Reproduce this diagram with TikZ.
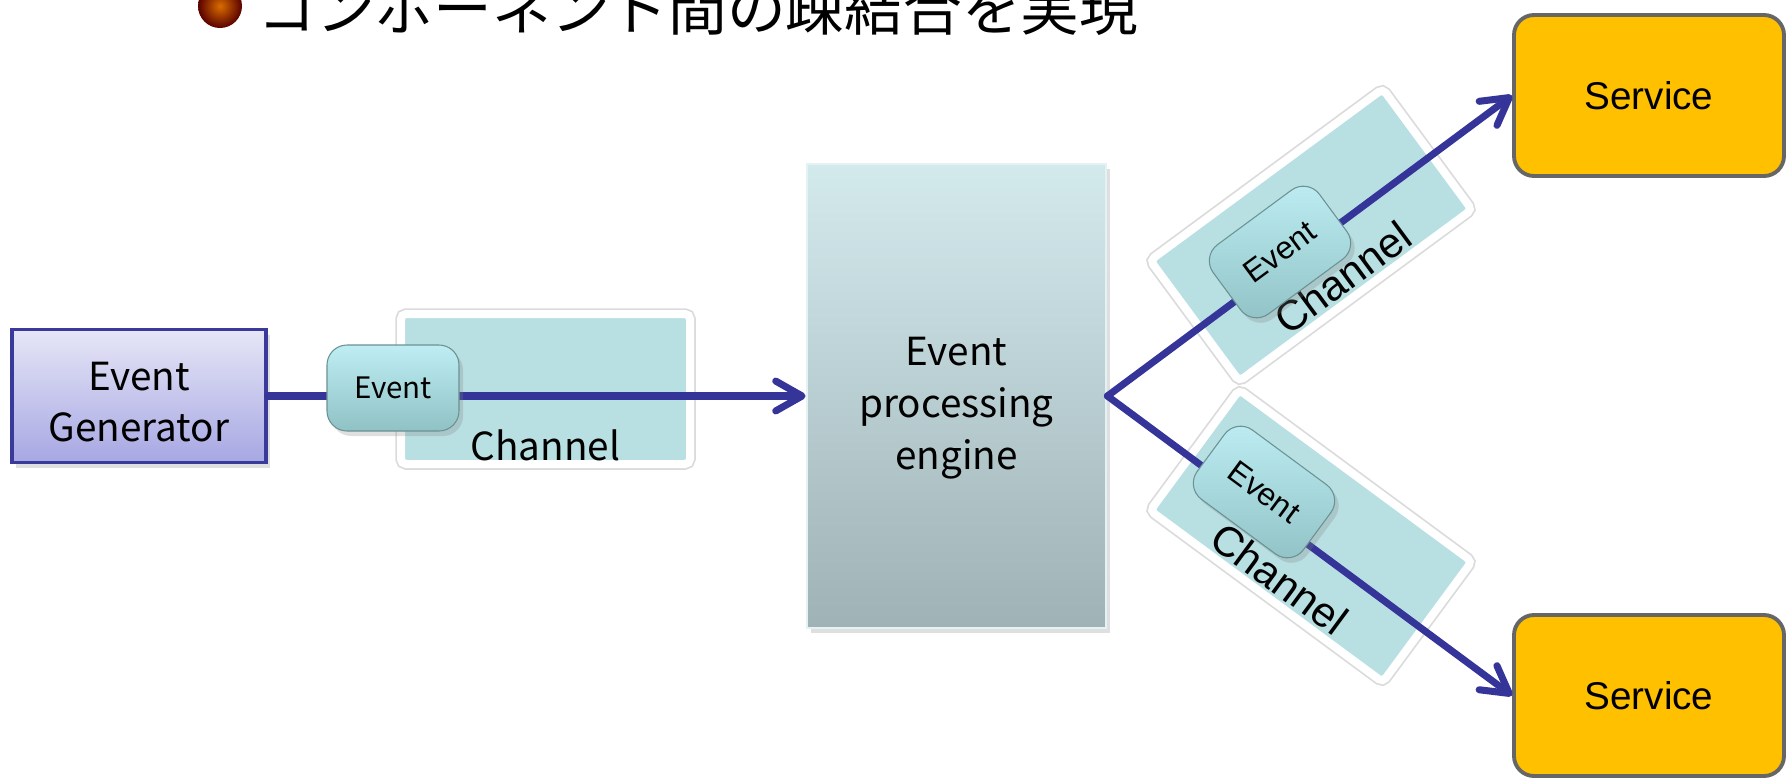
\documentclass[tikz,border=0pt]{standalone}
\usepackage{fontspec}
\setmainfont{Liberation Sans}
\newfontfamily\jpfont{Noto Sans CJK JP}
\usetikzlibrary{arrows.meta,positioning,calc,shadows}

\definecolor{flowblue}{HTML}{343499}
\definecolor{chanfill}{HTML}{B8DFE2}
\definecolor{evtTop}{HTML}{BEEEF3}
\definecolor{evtBot}{HTML}{8FC1C5}
\definecolor{engTop}{HTML}{D3EAED}
\definecolor{engBot}{HTML}{9FB2B6}
\definecolor{genTop}{HTML}{E6E6F7}
\definecolor{genBot}{HTML}{A7A7E3}
\definecolor{genLine}{HTML}{3A3A9B}
\definecolor{svcFill}{HTML}{FFC000}
\definecolor{svcLine}{HTML}{666666}

\begin{document}
\begin{tikzpicture}[
  soft/.style={drop shadow={opacity=0.25, shadow xshift=0.4mm, shadow yshift=-0.5mm}},
  gen/.style={draw=genLine, line width=0.9pt, top color=genTop, bottom color=genBot,
    minimum width=25.4mm, minimum height=13.3mm, soft},
  engine/.style={draw=engTop!60!white, line width=0.8pt, top color=engTop, bottom color=engBot,
    minimum width=29.9mm, minimum height=46.4mm, soft},
  blocktxt/.style={align=center, inner sep=0pt},
  svc/.style={draw=svcLine, line width=1.1pt, fill=svcFill, rounded corners=2mm,
    minimum width=27mm, minimum height=16.1mm, font=\fontsize{11}{13}\selectfont},
  chan/.style={draw=white, line width=0.8mm, fill=chanfill, rounded corners=0.5mm,
    minimum width=28.9mm, minimum height=15mm, inner sep=0pt,
    preaction={draw=black!14, line width=1.15mm}},
  chlbl/.style={anchor=base, inner sep=0pt, font=\fontsize{12}{14}\selectfont},
  evt/.style={draw=evtBot!75!black, line width=0.3pt, top color=evtTop, bottom color=evtBot,
    rounded corners=2mm, minimum width=13.2mm, minimum height=8.6mm, inner sep=0pt,
    font=\fontsize{9}{11}\selectfont, soft},
  flow/.style={draw=flowblue, line width=2pt, line cap=round,
    -{Straight Barb[length=7.5pt, width=8.5pt, round]}}
]
\useasboundingbox (0,0) rectangle (17.89,7.78);

% heading, cut off at the top
\node[circle, inner sep=0pt, minimum size=4.4mm, inner color=orange!85!black,
  outer color=red!35!black] (dot) at (2.20,7.72) {};
\node[anchor=base west, inner sep=0pt, font=\jpfont\fontsize{16.7}{20}\selectfont]
  (head) at (2.57,7.48) {コンポーネント間の疎結合を実現};

% main blocks
\node[gen] (gen) at (1.39,3.82) {};
\node[blocktxt, font=\jpfont\fontsize{11}{14.6}\selectfont] (gentxt)
  at ([yshift=-0.6mm]gen.center) {Event\\Generator};
\node[engine] (eng) at (9.565,3.82) {};
\node[blocktxt, font=\jpfont\fontsize{11}{14.8}\selectfont] (engtxt)
  at ([yshift=-1.2mm]eng.center) {Event\\processing\\engine};
\node[svc] (svcA) at (16.49,6.825) {Service};
\node[svc] (svcB) at (16.49,0.825) {Service};

% channels under the flow lines
\node[chan] (chH) at (5.455,3.89) {};
\node[chan, rotate=36.4] (chA) at (13.11,5.43) {};
\node[chan, rotate=-36.4] (chB) at (13.11,2.42) {};

\node[chlbl, font=\jpfont\fontsize{11}{13}\selectfont] (chHlbl)
  at ($(chH.south)!0.8mm!(chH.north)$) {Channel};
\node[chlbl, rotate=36.4] (chAlbl) at ($(chA.south)!1.1mm!(chA.north)$) {Channel};
\node[chlbl, rotate=-36.4] (chBlbl) at ($(chB.south)!1.1mm!(chB.north)$) {Channel};

% event flow
\draw[flow] (gen.east) -- (eng.west);
\draw[flow] (eng.east) -- (svcA.west);
\draw[flow] (eng.east) -- (svcB.west);

% events travelling on the channels
\node[evt, font=\jpfont\fontsize{8.4}{10}\selectfont] (evH) at (3.93,3.90) {Event};
\node[evt, rotate=36.4] (evA) at (12.80,5.26) {Event};
\node[evt, rotate=-36.4] (evB) at (12.64,2.86) {Event};

\end{tikzpicture}
\end{document}
